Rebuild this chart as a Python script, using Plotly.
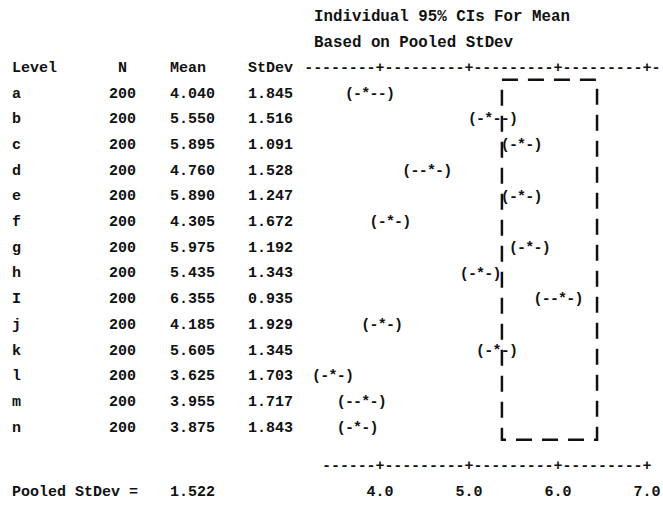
import math
import plotly.graph_objects as go

# ---------------- data ----------------
levels = ["a", "b", "c", "d", "e", "f", "g", "h", "I", "j", "k", "l", "m", "n"]
n_obs = [200, 200, 200, 200, 200, 200, 200, 200, 200, 200, 200, 200, 200, 200]
means = [4.040, 5.550, 5.895, 4.760, 5.890, 4.305, 5.975, 5.435, 6.355, 4.185,
         5.605, 3.625, 3.955, 3.875]
stdevs = [1.845, 1.516, 1.091, 1.528, 1.247, 1.672, 1.192, 1.343, 0.935, 1.929,
          1.345, 1.703, 1.717, 1.843]
pooled_sd = 1.522
t_crit = 1.961
tick_vals = [4.0, 5.0, 6.0, 7.0]
tick_labels = ["4.0", "5.0", "6.0", "7.0"]
title_lines = ["Individual 95% CIs For Mean", "Based on Pooled StDev"]
headers = ["Level", "N", "Mean", "StDev"]
box_range = [5.66, 6.82]   # hand-drawn dashed box (in mean units)

# ---------------- layout constants ----------------
W, H = 663, 506
FONT = "Liberation Mono"
FS = 15
INK = "#111111"
ROW0_PX, ROW_PITCH = 94, 25.7
CI_X0, CI_PPU = 333, 82.0      # px of value 3.6, px per unit on CI scale
AX_X0, AX_PPU = 380, 89.0      # px of 4.0 on printed axis, px per unit

def yidx(px):
    return (px - ROW0_PX) / ROW_PITCH

def xp(px):
    return px / W

def grid(v):
    return math.floor(v * 10 + 0.5 - 1e-6)

fig = go.Figure()

# CI glyphs, one character per 0.1 unit on the CI scale
hw = t_crit * pooled_sd / math.sqrt(n_obs[0])
cx, cy, ct = [], [], []
for i, m in enumerate(means):
    lo, mid, hi = grid(m - hw), grid(m), grid(m + hw)
    for k in range(lo, hi + 1):
        ch = "(" if k == lo else ")" if k == hi else "*" if k == mid else "-"
        cx.append(k / 10)
        cy.append(i)
        ct.append(ch)
fig.add_trace(go.Scatter(x=cx, y=cy, text=ct, mode="text", hoverinfo="skip",
                         textposition="middle center",
                         textfont=dict(family=FONT, size=FS, color=INK, weight="bold"),
                         xaxis="x", yaxis="y", showlegend=False))

# printed ASCII axes (top and bottom) on the printed-axis scale
def ascii_line(k0, k1, yrow):
    xs, ys, ts = [], [], []
    for k in range(k0, k1 + 1):
        xs.append(k / 10)
        ys.append(yrow)
        ts.append("+" if k % 10 == 0 else "-")
    return xs, ys, ts

for (k0, k1, yr) in [(32, 71, -1), (34, 70, 14.5)]:
    xs, ys, ts = ascii_line(k0, k1, yr)
    fig.add_trace(go.Scatter(x=xs, y=ys, text=ts, mode="text", hoverinfo="skip",
                             textposition="middle center",
                             textfont=dict(family=FONT, size=FS, color=INK, weight="bold"),
                             xaxis="x2", yaxis="y", showlegend=False))

# tick labels of the printed axis
fig.add_trace(go.Scatter(x=tick_vals, y=[15.5] * len(tick_vals), text=tick_labels,
                         mode="text", hoverinfo="skip", textposition="middle center",
                         textfont=dict(family=FONT, size=FS, color=INK, weight="bold"),
                         xaxis="x2", yaxis="y", showlegend=False))

# ---------------- text table ----------------
ann = []
def txt(s, px, yrow, anchor="left", size=FS):
    ann.append(dict(text=s, x=xp(px), y=yrow, xref="paper", yref="y",
                    xanchor=anchor, yanchor="middle", showarrow=False,
                    font=dict(family=FONT, size=size, color=INK, weight="bold")))

COL_LEVEL, COL_N, COL_MEAN, COL_SD = 10, 122, 168, 246
TITLE_X = 312

txt(title_lines[0], TITLE_X, -3, size=15.8)
txt(title_lines[1], TITLE_X, -2, size=15.8)
txt(headers[0], COL_LEVEL, -1)
txt(headers[1], COL_N, -1, "center")
txt(headers[2], COL_MEAN, -1)
txt(headers[3], COL_SD, -1)
for i, lv in enumerate(levels):
    txt(lv, COL_LEVEL, i)
    txt(str(n_obs[i]), COL_N, i, "center")
    txt(f"{means[i]:.3f}", COL_MEAN, i)
    txt(f"{stdevs[i]:.3f}", COL_SD, i)
txt("Pooled StDev =", COL_LEVEL, 15.5)
txt(f"{pooled_sd:.3f}", COL_MEAN, 15.5)

# dashed box
fig.add_shape(type="rect", xref="x", yref="y", x0=box_range[0], x1=box_range[1],
              y0=-0.55, y1=13.45, line=dict(color=INK, width=2.5, dash="16px,10px"))

ci_range = [3.6 - CI_X0 / CI_PPU, 3.6 + (W - CI_X0) / CI_PPU]
ax_range = [4.0 - AX_X0 / AX_PPU, 4.0 + (W - AX_X0) / AX_PPU]
fig.update_layout(
    width=W, height=H, margin=dict(l=0, r=0, t=0, b=0),
    paper_bgcolor="white", plot_bgcolor="white",
    xaxis=dict(range=ci_range, visible=False, domain=[0, 1]),
    xaxis2=dict(range=ax_range, visible=False, overlaying="x", anchor="y"),
    yaxis=dict(range=[yidx(H), yidx(0)], visible=False, domain=[0, 1]),
    annotations=ann, showlegend=False,
)
fig.write_html("out.html")
